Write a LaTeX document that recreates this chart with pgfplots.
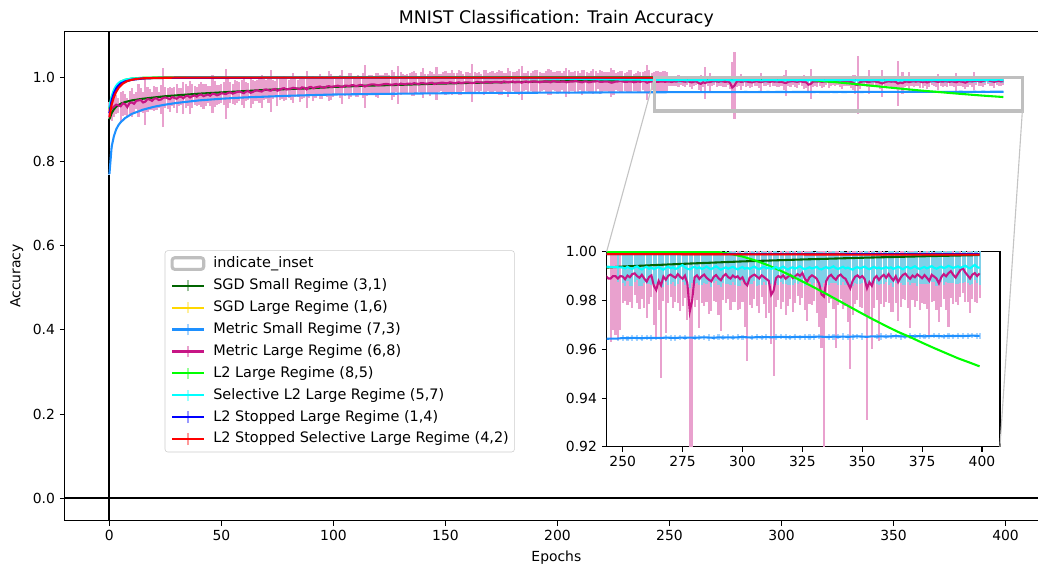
\documentclass[border=0pt]{standalone}
\usepackage{fontspec}
\setmainfont{DejaVu Sans}
\usepackage{pgfplots}
\usepackage{pgfplotstable}
\pgfplotsset{compat=1.18}
\definecolor{cDG}{HTML}{006400}
\definecolor{cGold}{HTML}{FFD700}
\definecolor{cDB}{HTML}{1E90FF}
\definecolor{cMVR}{HTML}{C71585}
\definecolor{cLime}{HTML}{00FF00}
\definecolor{cCyan}{HTML}{00FFFF}
\definecolor{cBlue}{HTML}{0000FF}
\definecolor{cRed}{HTML}{FF0000}
\definecolor{lDG}{HTML}{99C199}
\definecolor{lGold}{HTML}{FFEF99}
\definecolor{lDB}{HTML}{A5D3FF}
\definecolor{lMVR}{HTML}{E9A1CE}
\definecolor{lLime}{HTML}{99FF99}
\definecolor{lCyan}{HTML}{99FFFF}
\definecolor{bCyan}{HTML}{7FD0E8}
\definecolor{lBlue}{HTML}{9999FF}
\definecolor{lRed}{HTML}{FF9999}
\definecolor{insetgray}{HTML}{BFBFBF}
\definecolor{conngray}{HTML}{C4C4C4}
\definecolor{leggray}{HTML}{CCCCCC}

\pgfplotstableread{
x y
0 0.900
1 0.915
2 0.924
3 0.930
5 0.937
7 0.941
10 0.945
15 0.949
20 0.952
25 0.955
30 0.957
40 0.961
50 0.964
60 0.967
70 0.970
80 0.972
90 0.974
100 0.977
115 0.980
130 0.982
145 0.9845
160 0.9865
175 0.9880
190 0.9895
205 0.9907
220 0.9918
235 0.9929
250 0.9939
275 0.9950
300 0.9960
325 0.9968
350 0.9975
375 0.9981
399 0.9986
}\tDG

\pgfplotstableread{
x y
0 0.920
1 0.950
2 0.966
3 0.976
5 0.986
7 0.991
10 0.995
15 0.997
20 0.998
30 0.9988
100 0.9990
250 0.9990
399 0.9990
}\tGold

\pgfplotstableread{
x y
0 0.915
1 0.945
2 0.962
3 0.973
4 0.980
5 0.985
7 0.990
10 0.994
15 0.997
20 0.998
30 0.9988
100 0.9990
250 0.9990
399 0.9990
}\tBlue

\pgfplotstableread{
x y
0 0.905
1 0.935
2 0.953
3 0.965
4 0.974
5 0.980
6 0.985
7 0.988
8 0.991
10 0.994
12 0.996
15 0.9975
20 0.9984
25 0.9988
30 0.9990
50 0.9991
100 0.9991
200 0.9990
250 0.9990
300 0.9989
350 0.9988
399 0.9988
}\tRed

\pgfplotstableread{
x y
0 0.925
1 0.952
2 0.967
3 0.977
4 0.984
5 0.989
7 0.994
10 0.997
15 0.9988
20 0.9994
30 0.9997
100 0.9999
200 0.9999
250 0.9999
280 0.9999
285 0.99995
290 0.9998
295 0.9991
300 0.9980
305 0.9965
310 0.9947
315 0.9926
320 0.9903
325 0.9878
330 0.9853
335 0.9827
340 0.9800
345 0.9773
350 0.9746
355 0.9720
360 0.9695
365 0.9671
370 0.9650
375 0.9627
380 0.9605
385 0.9584
390 0.9563
395 0.9545
399 0.9530
}\tLime

\pgfplotstableread{
x y e
0 0.770 0.001
1 0.835 0.001
2 0.860 0.001
3 0.876 0.001
4 0.886 0.001
5 0.893 0.001
7 0.903 0.001
10 0.913 0.001
15 0.923 0.001
20 0.930 0.001
25 0.935 0.001
30 0.939 0.001
40 0.945 0.001
50 0.949 0.001
60 0.952 0.001
80 0.956 0.001
100 0.959 0.001
130 0.961 0.001
160 0.9625 0.001
200 0.9635 0.001
248 0.9644 0.001
250 .9646 .0012
252 .9645 .0010
254 .9647 .0013
256 .9646 .0011
258 .9645 .0012
260 .9647 .0010
262 .9646 .0013
264 .9647 .0011
266 .9646 .0012
268 .9648 .0010
270 .9647 .0013
272 .9646 .0011
274 .9648 .0012
276 .9647 .0010
278 .9648 .0013
280 .9647 .0011
282 .9648 .0012
284 .9649 .0010
286 .9648 .0013
288 .9647 .0011
290 .9649 .0012
292 .9648 .0010
294 .9649 .0013
296 .9648 .0011
298 .9649 .0012
300 .9650 .0010
302 .9649 .0013
304 .9648 .0011
306 .9650 .0012
308 .9649 .0010
310 .9650 .0013
312 .9649 .0011
314 .9650 .0012
316 .9651 .0010
318 .9650 .0013
320 .9649 .0011
322 .9651 .0012
324 .9650 .0010
326 .9651 .0013
328 .9650 .0011
330 .9651 .0012
332 .9652 .0010
334 .9651 .0013
336 .9650 .0011
338 .9652 .0012
340 .9651 .0010
342 .9652 .0013
344 .9651 .0011
346 .9652 .0012
348 .9653 .0010
350 .9652 .0013
352 .9651 .0011
354 .9653 .0012
356 .9652 .0010
358 .9653 .0013
360 .9652 .0011
362 .9653 .0012
364 .9654 .0010
366 .9653 .0013
368 .9652 .0011
370 .9654 .0012
372 .9653 .0010
374 .9654 .0013
376 .9653 .0011
378 .9654 .0012
380 .9655 .0010
382 .9654 .0013
384 .9653 .0011
386 .9655 .0012
388 .9654 .0010
390 .9655 .0013
392 .9654 .0011
394 .9655 .0012
396 .9656 .0010
398 .9655 .0013
399 .9655 .0011
}\tDB

\pgfplotstableread{
x y e
0 0.921 0.020
1 0.926 0.030
2 0.930 0.025
3 0.935 0.022
4 0.933 0.018
5 0.931 0.035
6 0.938 0.030
7 0.936 0.025
8 0.929 0.022
9 0.939 0.028
10 0.940 0.035
11 0.937 0.024
12 0.944 0.020
13 0.945 0.040
14 0.946 0.028
15 0.940 0.026
16 0.942 0.055
17 0.948 0.030
18 0.947 0.024
19 0.944 0.022
20 0.949 0.030
21 0.950 0.027
22 0.946 0.020
23 0.947 0.035
24 0.951 0.070
25 0.952 0.024
26 0.950 0.025
27 0.948 0.030
28 0.953 0.022
29 0.951 0.025
30 0.949 0.035
31 0.953 0.022
32 0.954 0.020
33 0.950 0.038
34 0.955 0.028
35 0.956 0.024
36 0.952 0.040
37 0.955 0.028
38 0.957 0.022
39 0.954 0.022
40 0.958 0.025
41 0.959 0.030
42 0.955 0.030
43 0.957 0.026
44 0.959 0.020
45 0.956 0.024
46 0.961 0.045
47 0.960 0.030
48 0.957 0.024
49 0.959 0.022
50 0.962 0.022
51 0.961 0.028
52 0.960 0.060
53 0.963 0.035
54 0.964 0.025
55 0.961 0.024
56 0.963 0.030
57 0.965 0.026
58 0.966 0.022
59 0.964 0.030
60 0.962 0.035
61 0.966 0.022
62 0.967 0.020
63 0.963 0.035
64 0.965 0.028
65 0.968 0.024
66 0.969 0.025
67 0.967 0.028
68 0.966 0.040
69 0.970 0.025
70 0.971 0.022
71 0.969 0.030
72 0.968 0.050
73 0.971 0.022
74 0.972 0.020
75 0.968 0.036
76 0.970 0.025
77 0.973 0.024
78 0.974 0.030
79 0.971 0.025
80 0.972 0.022
81 0.973 0.028
82 0.975 0.035
83 0.974 0.022
84 0.973 0.020
85 0.972 0.030
86 0.976 0.028
87 0.975 0.024
88 0.971 0.045
89 0.976 0.026
90 0.977 0.022
91 0.974 0.030
92 0.976 0.025
93 0.977 0.022
94 0.978 0.030
95 0.976 0.028
96 0.975 0.020
97 0.978 0.024
98 0.979 0.035
99 0.977 0.030
100 0.978 0.025
101 0.979 0.022
102 0.980 0.022
103 0.978 0.028
104 0.977 0.040
105 0.980 0.024
106 0.980 0.020
107 0.979 0.030
108 0.981 0.028
109 0.981 0.022
110 0.979 0.025
111 0.980 0.026
112 0.982 0.022
113 0.981 0.030
114 0.978 0.050
115 0.980 0.024
116 0.982 0.024
117 0.983 0.022
118 0.983 0.020
119 0.982 0.028
120 0.981 0.030
121 0.982 0.024
122 0.983 0.022
123 0.984 0.026
124 0.984 0.025
125 0.983 0.022
126 0.982 0.035
127 0.983 0.030
128 0.984 0.020
129 0.982 0.045
130 0.985 0.028
131 0.984 0.024
132 0.983 0.022
133 0.985 0.022
134 0.985 0.025
135 0.984 0.028
136 0.986 0.030
137 0.985 0.024
138 0.984 0.020
139 0.986 0.026
140 0.986 0.035
141 0.985 0.022
142 0.985 0.022
143 0.986 0.030
144 0.987 0.025
145 0.984 0.024
146 0.985 0.040
147 0.986 0.022
148 0.987 0.020
149 0.987 0.026
150 0.986 0.028
151 0.986 0.024
152 0.988 0.022
153 0.987 0.030
154 0.986 0.025
155 0.987 0.022
156 0.988 0.030
157 0.986 0.028
158 0.987 0.020
159 0.988 0.024
160 0.988 0.025
161 0.987 0.022
162 0.986 0.045
163 0.987 0.026
164 0.989 0.022
165 0.988 0.024
166 0.988 0.020
167 0.987 0.030
168 0.989 0.028
169 0.989 0.022
170 0.987 0.025
171 0.988 0.026
172 0.989 0.022
173 0.989 0.024
174 0.988 0.030
175 0.987 0.028
176 0.990 0.020
177 0.989 0.022
178 0.988 0.035
179 0.989 0.026
180 0.990 0.022
181 0.988 0.024
182 0.989 0.025
183 0.989 0.030
184 0.987 0.040
185 0.989 0.022
186 0.990 0.020
187 0.988 0.026
188 0.989 0.022
189 0.990 0.024
190 0.990 0.028
191 0.989 0.028
192 0.988 0.025
193 0.989 0.022
194 0.990 0.020
195 0.990 0.024
196 0.989 0.030
197 0.988 0.030
198 0.991 0.022
199 0.990 0.022
200 0.989 0.025
201 0.989 0.026
202 0.990 0.020
203 0.990 0.024
204 0.988 0.035
205 0.989 0.028
206 0.990 0.022
207 0.990 0.022
208 0.991 0.025
209 0.990 0.024
210 0.989 0.020
211 0.988 0.030
212 0.990 0.028
213 0.990 0.022
214 0.988 0.022
215 0.989 0.026
216 0.990 0.030
217 0.990 0.024
218 0.991 0.020
219 0.989 0.028
220 0.989 0.025
221 0.990 0.022
222 0.990 0.022
223 0.989 0.024
224 0.987 0.035
225 0.988 0.030
226 0.990 0.020
227 0.990 0.022
228 0.991 0.025
229 0.990 0.026
230 0.989 0.022
231 0.989 0.024
232 0.990 0.028
233 0.990 0.028
234 0.988 0.020
235 0.989 0.022
236 0.990 0.025
237 0.989 0.024
238 0.991 0.022
239 0.990 0.026
240 0.987 0.042
241 0.989 0.028
242 0.990 0.020
243 0.990 0.022
244 0.989 0.025
245 0.989 0.026
246 0.990 0.022
247 0.990 0.024
248 0.989 0.025
249 0.990 0.022
250 0.9898 0.011
251 0.9887 0.009
252 0.9902 0.012
253 0.9895 0.010
254 0.9908 0.014
255 0.9911 0.009
256 0.9900 0.011
257 0.9893 0.013
258 0.9905 0.010
259 0.9890 0.012
260 0.9877 0.015
261 0.9896 0.011
262 0.9903 0.009
263 0.9860 0.016
264 0.9843 0.020
265 0.9880 0.012
266 0.9862 0.038
267 0.9898 0.010
268 0.9885 0.022
269 0.9901 0.011
270 0.9906 0.009
271 0.9899 0.013
272 0.9893 0.010
273 0.9908 0.012
274 0.9897 0.014
275 0.9889 0.011
276 0.9902 0.009
277 0.9870 0.015
278 0.9755 0.060
279 0.9800 0.080
280 0.9895 0.012
281 0.9903 0.010
282 0.9888 0.020
283 0.9899 0.011
284 0.9906 0.013
285 0.9893 0.010
286 0.9885 0.014
287 0.9878 0.012
288 0.9897 0.010
289 0.9904 0.011
290 0.9891 0.015
291 0.9883 0.021
292 0.9900 0.010
293 0.9908 0.012
294 0.9896 0.009
295 0.9890 0.013
296 0.9902 0.011
297 0.9894 0.010
298 0.9899 0.014
299 0.9887 0.012
300 0.9895 0.010
301 0.9872 0.018
302 0.9862 0.031
303 0.9893 0.011
304 0.9901 0.013
305 0.9906 0.010
306 0.9898 0.012
307 0.9890 0.014
308 0.9903 0.009
309 0.9896 0.011
310 0.9888 0.016
311 0.9880 0.013
312 0.9823 0.020
313 0.9840 0.035
314 0.9892 0.012
315 0.9900 0.010
316 0.9894 0.013
317 0.9903 0.011
318 0.9889 0.015
319 0.9897 0.012
320 0.9905 0.010
321 0.9892 0.014
322 0.9899 0.011
323 0.9908 0.009
324 0.9901 0.012
325 0.9912 0.010
326 0.9890 0.013
327 0.9877 0.016
328 0.9895 0.011
329 0.9903 0.012
330 0.9897 0.010
331 0.9889 0.014
332 0.9870 0.018
333 0.9825 0.022
334 0.9816 0.068
335 0.9880 0.015
336 0.9898 0.011
337 0.9905 0.010
338 0.9893 0.013
339 0.9885 0.028
340 0.9900 0.012
341 0.9906 0.010
342 0.9895 0.013
343 0.9889 0.011
344 0.9870 0.016
345 0.9850 0.033
346 0.9880 0.014
347 0.9897 0.011
348 0.9903 0.010
349 0.9893 0.012
350 0.9900 0.013
351 0.9888 0.015
352 0.9850 0.054
353 0.9875 0.014
354 0.9860 0.026
355 0.9890 0.012
356 0.9900 0.010
357 0.9884 0.025
358 0.9897 0.011
359 0.9905 0.013
360 0.9893 0.010
361 0.9908 0.012
362 0.9894 0.014
363 0.9882 0.013
364 0.9899 0.011
365 0.9875 0.016
366 0.9893 0.012
367 0.9905 0.010
368 0.9910 0.011
369 0.9898 0.013
370 0.9889 0.020
371 0.9902 0.010
372 0.9895 0.012
373 0.9907 0.011
374 0.9899 0.014
375 0.9891 0.010
376 0.9904 0.012
377 0.9893 0.013
378 0.9880 0.022
379 0.9905 0.011
380 0.9898 0.010
381 0.9890 0.013
382 0.9870 0.016
383 0.9895 0.012
384 0.9908 0.010
385 0.9899 0.014
386 0.9912 0.022
387 0.9920 0.011
388 0.9905 0.012
389 0.9894 0.010
390 0.9910 0.013
391 0.9925 0.011
392 0.9932 0.010
393 0.9915 0.012
394 0.9903 0.011
395 0.9890 0.014
396 0.9906 0.010
397 0.9912 0.012
398 0.9900 0.011
399 0.9911 0.010
}\tMVR

\pgfplotstableread{
x y e
0 0.930 0.001
1 0.955 0.001
2 0.970 0.001
3 0.980 0.001
4 0.986 0.001
5 0.990 0.001
7 0.994 0.001
10 0.997 0.001
15 0.998 0.001
20 0.9985 0.001
40 0.9988 0.001
100 0.9988 0.001
150 0.9987 0.001
180 0.9980 0.002
200 0.9968 0.003
220 0.9952 0.004
240 0.9940 0.005
248 0.9936 0.006
250 .9935 .0065
251 .9931 .0070
252 .9938 .0060
253 .9933 .0075
254 .9929 .0068
255 .9936 .0062
256 .9940 .0058
257 .9932 .0072
258 .9927 .0066
259 .9934 .0061
260 .9938 .0070
261 .9930 .0064
262 .9935 .0073
263 .9928 .0059
264 .9933 .0067
265 .9937 .0071
266 .9931 .0063
267 .9926 .0069
268 .9934 .0060
269 .9939 .0074
270 .9932 .0066
271 .9936 .0062
272 .9929 .0070
273 .9933 .0065
274 .9941 .0059
275 .9945 .0068
276 .9935 .0072
277 .9930 .0061
278 .9927 .0075
279 .9934 .0064
280 .9938 .0069
281 .9931 .0060
282 .9936 .0071
283 .9929 .0066
284 .9933 .0063
285 .9939 .0070
286 .9932 .0058
287 .9928 .0074
288 .9935 .0065
289 .9940 .0061
290 .9933 .0068
291 .9926 .0072
292 .9931 .0060
293 .9936 .0067
294 .9930 .0064
295 .9934 .0070
296 .9938 .0062
297 .9932 .0069
298 .9927 .0066
299 .9933 .0073
300 .9937 .0059
301 .9930 .0068
302 .9934 .0071
303 .9929 .0063
304 .9935 .0066
305 .9939 .0060
306 .9932 .0072
307 .9928 .0065
308 .9934 .0069
309 .9938 .0062
310 .9931 .0067
311 .9935 .0073
312 .9929 .0061
313 .9933 .0070
314 .9937 .0064
315 .9930 .0068
316 .9934 .0059
317 .9939 .0071
318 .9932 .0066
319 .9927 .0063
320 .9933 .0069
321 .9936 .0074
322 .9930 .0060
323 .9935 .0067
324 .9940 .0065
325 .9933 .0062
326 .9928 .0070
327 .9932 .0068
328 .9936 .0061
329 .9931 .0073
330 .9934 .0064
331 .9938 .0066
332 .9930 .0069
333 .9927 .0072
334 .9933 .0060
335 .9937 .0065
336 .9931 .0068
337 .9935 .0063
338 .9940 .0070
339 .9932 .0061
340 .9929 .0067
341 .9934 .0072
342 .9938 .0064
343 .9931 .0066
344 .9935 .0059
345 .9930 .0071
346 .9926 .0068
347 .9933 .0062
348 .9937 .0070
349 .9931 .0065
350 .9935 .0063
351 .9939 .0069
352 .9932 .0074
353 .9928 .0060
354 .9934 .0066
355 .9938 .0068
356 .9931 .0062
357 .9935 .0071
358 .9930 .0064
359 .9933 .0067
360 .9937 .0061
361 .9932 .0070
362 .9936 .0065
363 .9929 .0072
364 .9934 .0063
365 .9939 .0068
366 .9933 .0060
367 .9928 .0066
368 .9935 .0071
369 .9938 .0064
370 .9931 .0069
371 .9935 .0062
372 .9940 .0067
373 .9933 .0073
374 .9929 .0061
375 .9934 .0066
376 .9937 .0070
377 .9931 .0063
378 .9936 .0068
379 .9941 .0065
380 .9934 .0060
381 .9930 .0071
382 .9935 .0067
383 .9939 .0064
384 .9932 .0069
385 .9936 .0062
386 .9942 .0070
387 .9938 .0066
388 .9933 .0063
389 .9937 .0068
390 .9940 .0072
391 .9934 .0061
392 .9938 .0065
393 .9943 .0069
394 .9936 .0064
395 .9932 .0067
396 .9939 .0070
397 .9946 .0062
398 .9937 .0066
399 .9933 .0068
}\tCyan

\pgfplotsset{
  errleg/.style={legend image code/.code={
    \draw[#1, line width=1.5pt] (11.4pt,-4.2pt) -- (11.4pt,4.2pt);
    \draw[line width=1.5pt] (0pt,0pt) -- (22.8pt,0pt);}},
  ser/.style 2 args={color=#1, line width=1.5pt, mark=none, errleg=#2},
  ebonly/.style={forget plot, draw=none, mark=none,
    error bars/.cd, y dir=both, y explicit, error mark=none,
    error bar style={line width=1.5pt, draw=#1}},
  mystyle/.style={
    scale only axis,
    tick align=outside, tick pos=left, major tick length=3.5pt,
    every tick/.style={black, line width=0.8pt},
    axis line style={line width=0.8pt},
    /pgf/number format/assume math mode=true,
    tick label style={font=\fontsize{10}{12}\selectfont},
    label style={font=\fontsize{10}{12}\selectfont},
  },
}

\begin{document}
\begin{tikzpicture}
\begin{axis}[mystyle,
  name=main, at={(0pt,0pt)}, anchor=south west,
  width=708pt, height=352.1pt,
  xmin=-19.95, xmax=418.95, ymin=-0.0532, ymax=1.1083,
  xtick={0,50,100,150,200,250,300,350,400},
  ytick={0,0.2,0.4,0.6,0.8,1.0},
  yticklabel style={/pgf/number format/.cd, fixed, fixed zerofill, precision=1},
  title={MNIST Classification: Train Accuracy},
  title style={font=\fontsize{12.5}{15}\selectfont, at={(0.5,1)}, anchor=base},
  xlabel={Epochs}, ylabel={Accuracy},
  legend cell align=left,
  legend style={at={(0.1017,0.1398)}, anchor=south west, draw=leggray, fill=white,
    rounded corners=2pt, inner sep=4pt, font=\fontsize{10.4}{12.5}\selectfont,
    row sep=5.4pt, nodes={inner sep=0pt, text height=7.9pt, text depth=2.5pt},
    /tikz/every odd column/.append style={column sep=5.8pt}},
]
\draw[black, line width=1.5pt] (axis cs:0,-0.0532) -- (axis cs:0,1.1083);
\draw[black, line width=1.5pt] (axis cs:-19.95,0) -- (axis cs:418.95,0);
\addplot[ebonly=lDB] table[x=x,y=y,y error=e] {\tDB};
\addplot[ebonly=lMVR] table[x=x,y=y,y error=e] {\tMVR};
\addplot[ebonly=bCyan] table[x=x,y=y,y error=e] {\tCyan};
\addlegendimage{legend image code/.code={\draw[insetgray, line width=2.2pt] (0pt,-4.2pt) rectangle (22.8pt,4.2pt);}}
\addlegendentry{indicate\_inset}
\addplot[ser={cDG}{lDG}] table[x=x,y=y] {\tDG};
\addlegendentry{SGD Small Regime (3,1)}
\addplot[ser={cGold}{lGold}] table[x=x,y=y] {\tGold};
\addlegendentry{SGD Large Regime (1,6)}
\addplot[ser={cDB}{lDB}] table[x=x,y=y] {\tDB};
\addlegendentry{Metric Small Regime (7,3)}
\addplot[ser={cMVR}{lMVR}] table[x=x,y=y] {\tMVR};
\addlegendentry{Metric Large Regime (6,8)}
\addplot[ser={cLime}{lLime}] table[x=x,y=y] {\tLime};
\addlegendentry{L2 Large Regime (8,5)}
\addplot[ser={cCyan}{lCyan}] table[x=x,y=y] {\tCyan};
\addlegendentry{Selective L2 Large Regime (5,7)}
\addplot[ser={cBlue}{lBlue}] table[x=x,y=y] {\tBlue};
\addlegendentry{L2 Stopped Large Regime (1,4)}
\addplot[ser={cRed}{lRed}] table[x=x,y=y] {\tRed};
\addlegendentry{L2 Stopped Selective Large Regime (4,2)}
\draw[insetgray, line width=2.4pt] (axis cs:243.3,0.92) rectangle (axis cs:407.5,1.0);
\coordinate (rTL) at (axis cs:243.3,1.0);
\coordinate (rBR) at (axis cs:407.5,0.92);
\end{axis}
\begin{axis}[mystyle,
  name=inset, at={(390.2pt,53.1pt)}, anchor=south west,
  width=283.2pt, height=140.6pt,
  xmin=243.3, xmax=407.5, ymin=0.92, ymax=1.0,
  xtick={250,275,300,325,350,375,400},
  ytick={0.92,0.94,0.96,0.98,1.0},
  yticklabel style={/pgf/number format/.cd, fixed, fixed zerofill, precision=2},
  axis background/.style={fill=white},
]
\addplot[restrict x to domain=245:405, ebonly=lDB] table[x=x,y=y,y error=e] {\tDB};
\addplot[restrict x to domain=245:405, ebonly=lMVR] table[x=x,y=y,y error=e] {\tMVR};
\addplot[restrict x to domain=245:405, ebonly=bCyan] table[x=x,y=y,y error=e] {\tCyan};
\addplot[ser={cDG}{lDG}] table[x=x,y=y] {\tDG};
\addplot[ser={cGold}{lGold}] table[x=x,y=y] {\tGold};
\addplot[ser={cDB}{lDB}] table[x=x,y=y] {\tDB};
\addplot[restrict x to domain=240:405, ser={cMVR}{lMVR}] table[x=x,y=y] {\tMVR};
\addplot[ser={cLime}{lLime}] table[x=x,y=y] {\tLime};
\addplot[ser={cCyan}{lCyan}] table[x=x,y=y] {\tCyan};
\addplot[ser={cBlue}{lBlue}] table[x=x,y=y] {\tBlue};
\addplot[ser={cRed}{lRed}] table[x=x,y=y] {\tRed};
\end{axis}
\draw[conngray, line width=0.8pt] (rTL) -- (inset.north west);
\draw[conngray, line width=0.8pt] (rBR) -- (inset.south east);
\pgfresetboundingbox
\path[use as bounding box] (-46.6pt,-33.3pt) rectangle (700.8pt,374.9pt);
\end{tikzpicture}
\end{document}
